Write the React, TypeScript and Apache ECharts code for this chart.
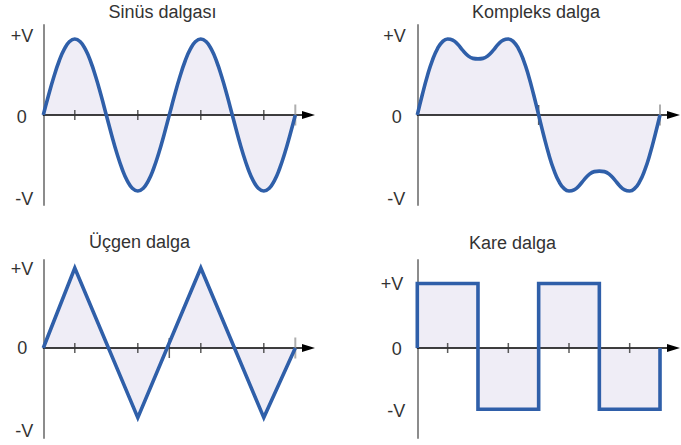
import { useEffect, useRef } from "react";
import * as echarts from "echarts";

// ---------- data ----------
const TITLES = ["Sinüs dalgası", "Kompleks dalga", "Üçgen dalga", "Kare dalga"];
const LEVEL_LABELS = ["+V", "0", "-V"];

// sine wave: one value every 15 degrees, 0..720
const SINE_STEP = 15;
const SINE_VALUES = [
  0, 0.259, 0.5, 0.707, 0.866, 0.966, 1, 0.966, 0.866, 0.707, 0.5, 0.259,
  0, -0.259, -0.5, -0.707, -0.866, -0.966, -1, -0.966, -0.866, -0.707, -0.5, -0.259,
  0, 0.259, 0.5, 0.707, 0.866, 0.966, 1, 0.966, 0.866, 0.707, 0.5, 0.259,
  0, -0.259, -0.5, -0.707, -0.866, -0.966, -1, -0.966, -0.866, -0.707, -0.5, -0.259,
  0,
];

// complex wave: one value every 7.5 degrees, 0..360
const COMPLEX_STEP = 7.5;
const COMPLEX_VALUES = [
  0, 0.269, 0.516, 0.722, 0.874, 0.966, 0.999, 0.984, 0.93, 0.85, 0.78, 0.745,
  0.738, 0.745, 0.78, 0.85, 0.93, 0.984, 0.999, 0.966, 0.874, 0.722, 0.516, 0.269,
  0, -0.269, -0.516, -0.722, -0.874, -0.966, -0.999, -0.984, -0.93, -0.85, -0.78, -0.745,
  -0.738, -0.745, -0.78, -0.85, -0.93, -0.984, -0.999, -0.966, -0.874, -0.722, -0.516, -0.269,
  0,
];

// triangle wave corners
const TRIANGLE_X = [0, 90, 270, 450, 630, 720];
const TRIANGLE_Y = [0, 1, -0.87, 1, -0.87, 0];

// square wave corners
const SQUARE_X = [0, 0, 180, 180, 360, 360, 540, 540, 720, 720];
const SQUARE_Y = [0, 1, 1, -0.95, -0.95, 1, 1, -0.95, -0.95, 0];

// tick marks on the time axis (degrees)
const SINE_TICKS = [90, 270, 450, 630];
const SINE_TALL_DARK: number[] = [];
const SINE_TALL_GRAY = [720];
const COMPLEX_TICKS: number[] = [];
const COMPLEX_TALL_DARK = [180];
const COMPLEX_TALL_GRAY = [360];
const TRIANGLE_TICKS = [90, 270, 450, 630];
const TRIANGLE_TALL_DARK = [360];
const TRIANGLE_TALL_GRAY = [720];
const SQUARE_TICKS = [90, 270, 450, 630];
const SQUARE_TALL_DARK: number[] = [];
const SQUARE_TALL_GRAY: number[] = [];

// level label positions (+V, 0, -V) in each panel
const SINE_LABEL_AT = [1.04, -0.02, -1.1];
const COMPLEX_LABEL_AT = [1.04, -0.02, -1.1];
const TRIANGLE_LABEL_AT = [0.985, 0, -1.035];
const SQUARE_LABEL_AT = [0.99, -0.015, -0.974];

// ---------- style / layout ----------
const BLUE = "#2f5fa9";
const FILL = "#efedf6";
const TEXT = "#333333";
const FONT = "Liberation Sans, Arial, sans-serif";
const LABEL_SIZE = 18;

type Panel = {
  title: string;
  titleX: number;
  titleY: number;
  grid: { left: number; top: number; width: number; height: number };
  xMax: number;
  yMin: number;
  yMax: number;
  points: number[][];
  smooth: boolean;
  ticks: number[];
  tallDark: number[];
  tallGray: number[];
  labelAt: number[];
  labelMargin: number;
  labelPad: number[];
};

const pairs = (xs: number[], ys: number[]) => xs.map((x, i) => [x, ys[i]]);
const stepped = (vals: number[], step: number) => vals.map((v, i) => [i * step, v]);

const PANELS: Panel[] = [
  {
    title: TITLES[0], titleX: 162.5, titleY: 12,
    grid: { left: 43.3, top: 25, width: 265.2, height: 180 },
    xMax: 757.7, yMin: -1.184, yMax: 1.184,
    points: stepped(SINE_VALUES, SINE_STEP), smooth: true,
    ticks: SINE_TICKS, tallDark: SINE_TALL_DARK, tallGray: SINE_TALL_GRAY,
    labelAt: SINE_LABEL_AT, labelMargin: 10, labelPad: [0, 6.5, 0],
  },
  {
    title: TITLES[1], titleX: 536, titleY: 12,
    grid: { left: 417.3, top: 25, width: 256.2, height: 180 },
    xMax: 380, yMin: -1.184, yMax: 1.184,
    points: stepped(COMPLEX_VALUES, COMPLEX_STEP), smooth: true,
    ticks: COMPLEX_TICKS, tallDark: COMPLEX_TALL_DARK, tallGray: COMPLEX_TALL_GRAY,
    labelAt: COMPLEX_LABEL_AT, labelMargin: 11.5, labelPad: [0, 4, 0.5],
  },
  {
    title: TITLES[2], titleX: 139.5, titleY: 242,
    grid: { left: 43.3, top: 260, width: 265.2, height: 178 },
    xMax: 757.7, yMin: -1.125, yMax: 1.1,
    points: pairs(TRIANGLE_X, TRIANGLE_Y), smooth: false,
    ticks: TRIANGLE_TICKS, tallDark: TRIANGLE_TALL_DARK, tallGray: TRIANGLE_TALL_GRAY,
    labelAt: TRIANGLE_LABEL_AT, labelMargin: 10, labelPad: [0, 6, 0],
  },
  {
    title: TITLES[3], titleX: 512.5, titleY: 242.5,
    grid: { left: 417.3, top: 260, width: 256.2, height: 178 },
    xMax: 760, yMin: -1.395, yMax: 1.364,
    points: pairs(SQUARE_X, SQUARE_Y), smooth: false,
    ticks: SQUARE_TICKS, tallDark: SQUARE_TALL_DARK, tallGray: SQUARE_TALL_GRAY,
    labelAt: SQUARE_LABEL_AT, labelMargin: 12, labelPad: [2, 3.5, 0],
  },
];

function buildOption() {
  const grid: any[] = [];
  const xAxis: any[] = [];
  const yAxis: any[] = [];
  const series: any[] = [];
  const graphic: any[] = [];

  PANELS.forEach((p, i) => {
    grid.push({ ...p.grid, containLabel: false });
    xAxis.push({
      type: "value",
      gridIndex: i,
      min: 0,
      max: p.xMax,
      z: 2,
      axisLine: {
        show: true,
        onZero: true,
        symbol: ["none", "triangle"],
        symbolSize: [8, 13],
        lineStyle: { color: "#000000", width: 1.5 },
      },
      axisTick: { show: false },
      axisLabel: { show: false },
      splitLine: { show: false },
    });
    const rich: any = {};
    LEVEL_LABELS.forEach((_, k) => {
      rich["l" + k] = {
        fontSize: LABEL_SIZE,
        fontFamily: FONT,
        color: TEXT,
        padding: [0, p.labelPad[k], 0, 0],
      };
    });
    yAxis.push({
      type: "value",
      gridIndex: i,
      min: p.yMin,
      max: p.yMax,
      z: 2,
      axisLine: { show: true, lineStyle: { color: "#8c8c8c", width: 2 } },
      axisTick: { show: false },
      splitLine: { show: false },
      axisLabel: {
        show: true,
        customValues: p.labelAt,
        margin: p.labelMargin,
        fontSize: LABEL_SIZE,
        fontFamily: FONT,
        color: TEXT,
        rich,
        formatter: (v: number) => {
          let best = 0;
          p.labelAt.forEach((lv, k) => {
            if (Math.abs(lv - v) < Math.abs(p.labelAt[best] - v)) best = k;
          });
          return `{l${best}|${LEVEL_LABELS[best]}}`;
        },
      },
    });
    // area
    series.push({
      type: "line",
      xAxisIndex: i,
      yAxisIndex: i,
      data: p.points,
      smooth: p.smooth,
      showSymbol: false,
      symbol: "none",
      z: 1,
      lineStyle: { width: 0, opacity: 0 },
      areaStyle: { color: FILL, opacity: 1 },
      silent: true,
    });
    // ticks
    series.push({
      type: "scatter",
      xAxisIndex: i,
      yAxisIndex: i,
      data: p.ticks.map((t) => [t, 0]),
      symbol: "rect",
      symbolSize: [1.5, 10],
      itemStyle: { color: "#333333" },
      z: 2,
      silent: true,
    });
    series.push({
      type: "scatter",
      xAxisIndex: i,
      yAxisIndex: i,
      data: p.tallDark.map((t) => [t, 0]),
      symbol: "rect",
      symbolSize: [1.5, 20],
      itemStyle: { color: "#333333" },
      z: 2,
      silent: true,
    });
    series.push({
      type: "scatter",
      xAxisIndex: i,
      yAxisIndex: i,
      data: p.tallGray.map((t) => [t, 0]),
      symbol: "rect",
      symbolSize: [2, 21],
      itemStyle: { color: "#9a9a9a" },
      z: 2,
      silent: true,
    });
    // curve
    series.push({
      type: "line",
      xAxisIndex: i,
      yAxisIndex: i,
      data: p.points,
      smooth: p.smooth,
      showSymbol: false,
      symbol: "none",
      z: 3,
      lineStyle: { color: BLUE, width: 3.6, join: "miter", cap: "butt" },
      silent: true,
    });
    graphic.push({
      type: "text",
      x: p.titleX,
      y: p.titleY,
      style: {
        text: p.title,
        fontSize: 18,
        fontFamily: FONT,
        fill: TEXT,
        textAlign: "center",
        textVerticalAlign: "middle",
        align: "center",
        verticalAlign: "middle",
      },
    });
  });

  return {
    animation: false,
    backgroundColor: "#ffffff",
    grid,
    xAxis,
    yAxis,
    series,
    graphic,
  };
}

export default function App() {
  const ref = useRef<HTMLDivElement>(null);
  useEffect(() => {
    if (!ref.current) return;
    const chart = echarts.init(ref.current, undefined, { renderer: "svg" });
    chart.setOption(buildOption() as any);
    return () => chart.dispose();
  }, []);
  return (
    <div
      ref={ref}
      style={{ position: "absolute", left: 0, top: 0, width: 681, height: 445, background: "#fff" }}
    />
  );
}
